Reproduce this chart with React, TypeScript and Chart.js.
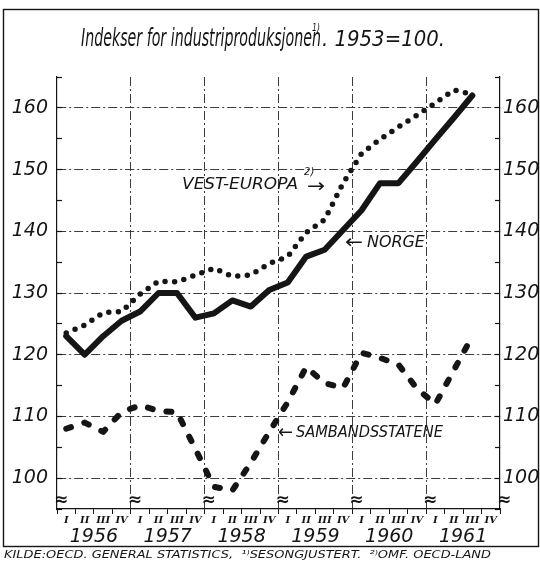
import React, { useEffect, useRef } from 'react';
import { Chart, registerables } from 'chart.js';

Chart.register(...registerables);

// ---------- data ----------
const quarterLabels = [
  'I', 'II', 'III', 'IV', 'I', 'II', 'III', 'IV', 'I', 'II', 'III', 'IV',
  'I', 'II', 'III', 'IV', 'I', 'II', 'III', 'IV', 'I', 'II', 'III', 'IV',
];
const years = ['1956', '1957', '1958', '1959', '1960', '1961'];

// Norge (solid)
const norge = [
  123, 120, 123, 125.5, 127, 130, 130, 126, 126.7, 128.8, 127.8, 130.5,
  131.7, 135.9, 137, 140.2, 143.4, 147.8, 147.8, 151.3, 154.9, 158.4, 162, null,
];
// Vest-Europa (dotted)
const vestEuropa = [
  123.5, 124.8, 126.8, 127, 129.8, 131.9, 131.8, 132.9, 134, 132.7, 132.9, 134.8,
  135.9, 139.8, 141.9, 147.8, 152.6, 154.9, 156.9, 158.8, 160.8, 162.9, 162.2, null,
];
// Sambandsstatene (dashed)
const sambandsstatene = [
  108, 109, 107.5, 110.7, 111.8, 110.9, 110.7, 104.7, 98.6, 98, 102.5, 107.5,
  112.3, 118, 115.4, 114.6, 120.3, 119.5, 118.4, 114.5, 112, 117.5, 123, null,
];

const INK = '#151515';
const GRID = '#3c3c3c';
const FONT = '"DejaVu Sans", sans-serif';

function drawFit(ctx: CanvasRenderingContext2D, text: string, x: number, y: number, font: string, width?: number, align: 'left' | 'right' | 'center' = 'left') {
  ctx.save();
  ctx.font = font;
  const w = ctx.measureText(text).width;
  const sx = width ? width / w : 1;
  let x0 = x;
  if (align === 'right') x0 = x - w * sx;
  else if (align === 'center') x0 = x - (w * sx) / 2;
  ctx.translate(x0, y);
  ctx.scale(sx, 1);
  ctx.textAlign = 'left';
  ctx.fillText(text, 0, 0);
  ctx.restore();
  return { left: x0, right: x0 + w * sx };
}

const overlay = {
  id: 'overlay',
  afterDraw(chart: any) {
    const { ctx, chartArea, scales } = chart;
    const xs = scales.x;
    const ys = scales.y;
    ctx.save();
    ctx.fillStyle = INK;
    ctx.strokeStyle = INK;
    ctx.textBaseline = 'alphabetic';

    // outer frame
    ctx.lineWidth = 1.4;
    ctx.strokeRect(3.5, 9.5, 535, 537);

    // title
    const t1 = drawFit(ctx, 'Indekser for industriproduksjonen', 81, 46, 'italic 24px ' + FONT, 240);
    drawFit(ctx, '1)', t1.right - 9, 31, 'italic 11px ' + FONT, 8);
    drawFit(ctx, '. 1953=100.', t1.right + 1, 46, 'italic 22px ' + FONT, 123);

    // footer
    drawFit(ctx, 'KILDE:OECD. GENERAL STATISTICS,  \u00b9\u207eSESONGJUSTERT.  \u00b2\u207eOMF. OECD-LAND', 4, 558, 'italic 10px ' + FONT, 487);

    // break marks at the bottom of each year boundary
    ctx.save();
    ctx.font = 'bold 17px ' + FONT;
    ctx.textAlign = 'center';
    ctx.textBaseline = 'middle';
    for (let k = 0; k <= years.length; k++) {
      const px = xs.getPixelForValue(k * 4 - 0.5);
      ctx.fillText('\u2248', px + 4, chartArea.bottom - 8);
    }
    ctx.restore();

    // series labels (anchored in data units)
    ctx.textBaseline = 'middle';
    const veX = xs.getPixelForValue(12.56);
    const veY = ys.getPixelForValue(147.5);
    const ve = drawFit(ctx, 'VEST-EUROPA', veX, veY, 'italic 16px ' + FONT, 116, 'right');
    drawFit(ctx, '2)', ve.right + 6, veY - 13, 'italic 10px ' + FONT);
    drawFit(ctx, '\u2192', ve.right + 9, veY + 2, '19px ' + FONT, 18);

    const noX = xs.getPixelForValue(15.1);
    const noY = ys.getPixelForValue(138.1);
    const arr1 = drawFit(ctx, '\u2190', noX, noY, '19px ' + FONT, 18);
    drawFit(ctx, 'NORGE', arr1.right + 4, noY, 'italic 16px ' + FONT, 58);

    const saX = xs.getPixelForValue(11.47);
    const saY = ys.getPixelForValue(107.3);
    const arr2 = drawFit(ctx, '\u2190', saX, saY, '19px ' + FONT, 15);
    drawFit(ctx, 'SAMBANDSSTATENE', arr2.right + 3, saY, 'italic 15px ' + FONT, 147);

    ctx.restore();
  },
};

export default function App() {
  const ref = useRef<HTMLCanvasElement>(null);

  useEffect(() => {
    const canvas = ref.current;
    if (!canvas) return;
    const yFont = { family: FONT, style: 'italic' as const, size: 19 };
    const chart = new Chart(canvas, {
      type: 'line',
      data: {
        labels: quarterLabels,
        datasets: [
          {
            label: 'Norge',
            data: norge,
            borderColor: INK,
            borderWidth: 6,
            borderJoinStyle: 'round',
            borderCapStyle: 'round',
            pointRadius: 0,
            tension: 0,
            fill: false,
          },
          {
            label: 'Vest-Europa',
            data: vestEuropa,
            borderColor: INK,
            borderWidth: 5.5,
            borderDash: [0, 9.6],
            borderJoinStyle: 'round',
            borderCapStyle: 'round',
            pointRadius: 0,
            tension: 0,
            fill: false,
          },
          {
            label: 'Sambandsstatene',
            data: sambandsstatene,
            borderColor: INK,
            borderWidth: 6,
            borderDash: [5, 14],
            borderJoinStyle: 'round',
            borderCapStyle: 'round',
            pointRadius: 0,
            tension: 0,
            fill: false,
          },
        ],
      },
      options: {
        responsive: false,
        animation: false,
        events: [],
        layout: { padding: { top: 77, bottom: 21, left: 0, right: 0 } },
        plugins: {
          legend: { display: false },
          tooltip: { enabled: false },
          title: { display: false },
        },
        scales: {
          x: {
            type: 'category',
            labels: quarterLabels,
            position: 'bottom',
            offset: true,
            weight: 0,
            grid: {
              offset: true,
              color: (c: any) => (c.index % 4 === 0 && c.index > 0 && c.index < quarterLabels.length ? GRID : 'transparent'),
              lineWidth: 1,
              drawTicks: true,
              tickLength: 5,
              tickColor: INK,
              tickWidth: 1,
            },
            border: { display: true, color: INK, width: 1.2, dash: [9, 3, 2, 3] },
            ticks: {
              autoSkip: false,
              maxRotation: 0,
              minRotation: 0,
              padding: 0,
              color: INK,
              font: { family: '"DejaVu Serif", serif', style: 'italic', weight: 'bold', size: 10 },
            },
            afterFit: (s: any) => { s.height = 17; },
          },
          years: {
            type: 'category',
            labels: years,
            position: 'bottom',
            offset: true,
            weight: 1,
            grid: { display: false, drawTicks: false },
            border: { display: false },
            ticks: { autoSkip: false, maxRotation: 0, minRotation: 0, padding: 0, color: INK, font: yFont },
            afterFit: (s: any) => { s.height = 18; },
          },
          y: {
            type: 'linear',
            position: 'left',
            min: 95,
            max: 165,
            ticks: {
              stepSize: 5,
              padding: 14,
              color: INK,
              font: yFont,
              callback: (v: any) => (Number(v) % 10 === 0 ? String(v) : ''),
            },
            grid: {
              color: (c: any) => (c.tick && c.tick.value % 10 === 0 ? GRID : 'transparent'),
              lineWidth: 1,
              tickLength: -5,
              tickColor: INK,
              tickWidth: 1.2,
            },
            border: { display: true, color: INK, width: 1.2, dash: [9, 3, 2, 3] },
            afterFit: (s: any) => { s.width = 57; },
          },
          y2: {
            type: 'linear',
            position: 'right',
            min: 95,
            max: 165,
            ticks: {
              stepSize: 5,
              padding: 8,
              color: INK,
              font: yFont,
              callback: (v: any) => (Number(v) % 10 === 0 ? String(v) : ''),
            },
            grid: {
              drawOnChartArea: false,
              tickLength: -5,
              tickColor: INK,
              tickWidth: 1.2,
            },
            border: { display: true, color: INK, width: 1.2 },
            afterFit: (s: any) => { s.width = 40; },
          },
        },
      } as any,
      plugins: [overlay],
    });
    return () => chart.destroy();
  }, []);

  return (
    <div style={{ position: 'absolute', left: 0, top: 0, width: 540, height: 565, background: '#fff' }}>
      <canvas ref={ref} width={540} height={565} style={{ display: 'block', width: 540, height: 565 }} />
    </div>
  );
}
